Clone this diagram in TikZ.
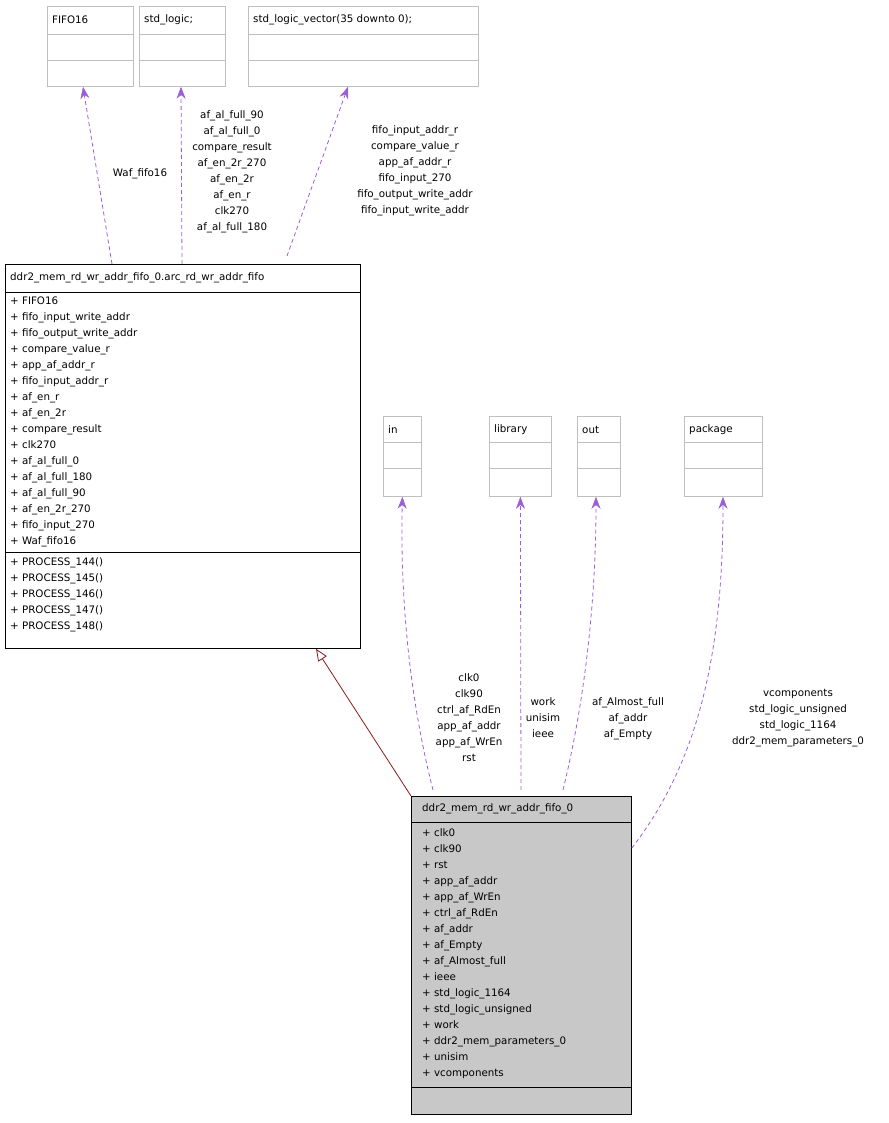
\documentclass[tikz,border=0pt]{standalone}
\usepackage{fontspec}
\setmainfont{DejaVu Sans}
\usetikzlibrary{arrows.meta,calc}
\definecolor{pur}{HTML}{9A5FD6}
\definecolor{inh}{HTML}{8B1A1A}
\definecolor{gbord}{HTML}{BFBFBF}
\begin{document}
\begin{tikzpicture}[x=1pt,y=-1pt,
  txt/.style={font=\fontsize{10.3}{16}\selectfont,inner sep=0pt},
  lbl/.style={txt,align=center},
  box/.style={draw=#1,line width=0.8pt,inner sep=0pt,anchor=north west},
  dep/.style={draw=pur,line width=0.8pt,dash pattern=on 4pt off 3pt,-{Stealth[length=12pt,width=9pt,fill=pur,line width=0.5pt]}}]
\useasboundingbox (0,0) rectangle (888,1123);
\newcommand\gbox[6]{%
  \node[box=gbord,minimum width=#3-#2,minimum height=80] (#1) at (#2,#4) {};
  \draw[gbord,line width=0.8pt] (#2,#5) -- (#3,#5) (#2,#5+26) -- (#3,#5+26);
  \node[txt,anchor=west] (#1t) at (#2+5,#4+14) {#6};}
\gbox{fifo}{47}{133}{6}{34}{FIFO16}
\gbox{sl}{139}{225}{6}{34}{std\_logic;}
\gbox{slv}{248}{478}{6}{34}{std\_logic\_vector(35 downto 0);}
\gbox{in}{383}{421}{416}{442}{in}
\gbox{lib}{489}{551}{416}{442}{library}
\gbox{out}{577}{620}{416}{442}{out}
\gbox{pkg}{684}{762}{416}{442}{package}
\node[box=black,minimum width=355,minimum height=384] (arc) at (5,264) {};
\draw[black,line width=0.8pt] (5,292)--(360,292) (5,552)--(360,552);
\node[txt,anchor=west] (arct) at (10,278) {ddr2\_mem\_rd\_wr\_addr\_fifo\_0.arc\_rd\_wr\_addr\_fifo};
\node[txt,anchor=north west,align=left] (arca) at (10,297) {+ FIFO16\\+ fifo\_input\_write\_addr\\+ fifo\_output\_write\_addr\\+ compare\_value\_r\\+ app\_af\_addr\_r\\+ fifo\_input\_addr\_r\\+ af\_en\_r\\+ af\_en\_2r\\+ compare\_result\\+ clk270\\+ af\_al\_full\_0\\+ af\_al\_full\_180\\+ af\_al\_full\_90\\+ af\_en\_2r\_270\\+ fifo\_input\_270\\+ Waf\_fifo16};
\node[txt,anchor=north west,align=left] (arcm) at (10,557) {+ PROCESS\_144()\\+ PROCESS\_145()\\+ PROCESS\_146()\\+ PROCESS\_147()\\+ PROCESS\_148()};
\node[box=black,fill={rgb,255:red,200;green,200;blue,200},minimum width=220,minimum height=318] (main) at (411,796) {};
\draw[black,line width=0.8pt] (411,822)--(631,822) (411,1087)--(631,1087);
\node[txt,anchor=west] (maint) at (422,809) {ddr2\_mem\_rd\_wr\_addr\_fifo\_0};
\node[txt,anchor=north west,align=left] (maina) at (422,828) {+ clk0\\+ clk90\\+ rst\\+ app\_af\_addr\\+ app\_af\_WrEn\\+ ctrl\_af\_RdEn\\+ af\_addr\\+ af\_Empty\\+ af\_Almost\_full\\+ ieee\\+ std\_logic\_1164\\+ std\_logic\_unsigned\\+ work\\+ ddr2\_mem\_parameters\_0\\+ unisim\\+ vcomponents};
\draw[dep] ([xshift=107]arc.north west) -- ([xshift=36]fifo.south west);
\draw[dep] ([xshift=177]arc.north west) -- ([xshift=42]sl.south west);
\draw[dep] ([xshift=282,yshift=8]arc.north west) -- ([xshift=100]slv.south west);
\draw[inh,line width=0.8pt,-{Triangle[open,length=12pt,width=10pt,fill=white]}] (main.north west) -- ([xshift=311]arc.south west);
\draw[dep] ([xshift=22,yshift=6]main.north west) .. controls (410,700) and (400,600) .. (in.south);
\draw[dep] ([xshift=110,yshift=6]main.north west) -- (lib.south);
\draw[dep] ([xshift=152,yshift=6]main.north west) .. controls (585,700) and (596,600) .. ([xshift=19]out.south west);
\draw[dep] ([yshift=-52]main.north east) .. controls (700,760) and (723,650) .. ([xshift=39]pkg.south west);
\node[lbl] (l1) at (140,174) {Waf\_fifo16};
\node[lbl,anchor=north] (l2) at (232,110) {af\_al\_full\_90\\af\_al\_full\_0\\compare\_result\\af\_en\_2r\_270\\af\_en\_2r\\af\_en\_r\\clk270\\af\_al\_full\_180};
\node[lbl,anchor=north] (l3) at (415,125) {fifo\_input\_addr\_r\\compare\_value\_r\\app\_af\_addr\_r\\fifo\_input\_270\\fifo\_output\_write\_addr\\fifo\_input\_write\_addr};
\node[lbl,anchor=north] (l4) at (469,673) {clk0\\clk90\\ctrl\_af\_RdEn\\app\_af\_addr\\app\_af\_WrEn\\rst};
\node[lbl,anchor=north] (l5) at (543,697) {work\\unisim\\ieee};
\node[lbl,anchor=north] (l6) at (628,697) {af\_Almost\_full\\af\_addr\\af\_Empty};
\node[lbl,anchor=north] (l7) at (798,689) {vcomponents\\std\_logic\_unsigned\\std\_logic\_1164\\ddr2\_mem\_parameters\_0};
\end{tikzpicture}
\end{document}
